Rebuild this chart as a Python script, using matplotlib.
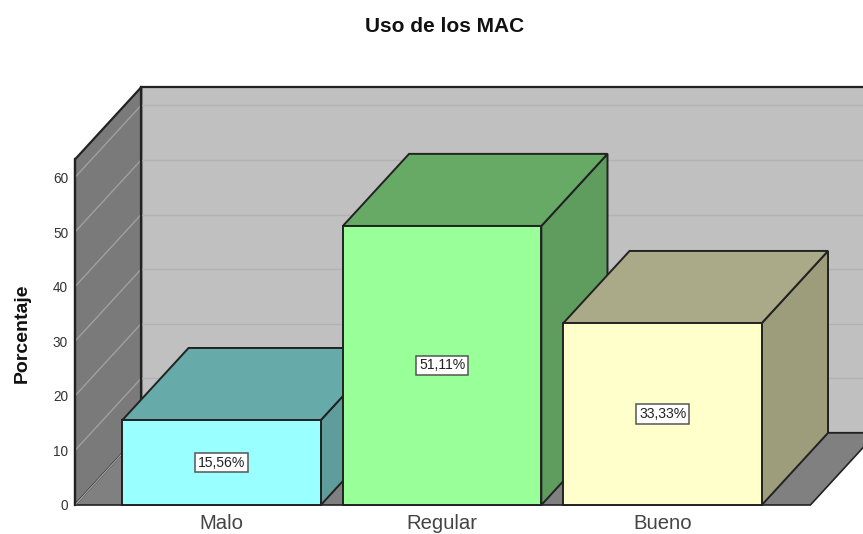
#!/usr/bin/env python3
import matplotlib
matplotlib.use('Agg')
import matplotlib.pyplot as plt
from matplotlib.patches import Polygon

# Chart data
categories = ['Malo', 'Regular', 'Bueno']
percentages = [15.56, 51.11, 33.33]
value_labels = ['15,56%', '51,11%', '33,33%']
yticks = [0, 10, 20, 30, 40, 50, 60]

front_colors = ['#99ffff', '#99ff99', '#ffffcc']
top_colors = ['#66aaaa', '#66aa66', '#aaaa88']
side_colors = ['#5f9d9d', '#5f9d5f', '#9d9d7c']

# Fake 3D depth, in data units
DX = 0.30
DY = 13.2
WIDTH = 0.90
LEFT = -0.665
RIGHT = 2.67
WALL_TOP = 63.3
EDGE = '#222222'

W, H = 863, 534
fig = plt.figure(figsize=(W / 100, H / 100), dpi=100)
ax = fig.add_axes([75 / W, (H - 505) / H, (W - 75) / W, 417 / H])
ax.set_xlim(LEFT, LEFT + (W - 75) / 220.5)
ax.set_ylim(0, 417 / 5.46)


def face(points, color, lw=1.4, ec=EDGE, z=2):
    ax.add_patch(Polygon(points, closed=True, fc=color, ec=ec, lw=lw, zorder=z,
                         joinstyle='miter', clip_on=False))


# Back wall, left wall and floor
face([(LEFT + DX, DY), (RIGHT + DX, DY), (RIGHT + DX, WALL_TOP + DY), (LEFT + DX, WALL_TOP + DY)],
     '#c0c0c0', lw=1.6, z=1)
face([(LEFT, 0), (LEFT + DX, DY), (LEFT + DX, WALL_TOP + DY), (LEFT, WALL_TOP)], '#7a7a7a', lw=1.6, z=1)
face([(LEFT, 0), (RIGHT, 0), (RIGHT + DX, DY), (LEFT + DX, DY)], '#808080', lw=1.2, z=1)

for t in yticks:
    ax.plot([LEFT, LEFT + DX], [t, t + DY], color='#a0a0a0', lw=1.0, zorder=1.5)
    if t > 0:
        ax.plot([LEFT + DX, RIGHT + DX], [t + DY, t + DY], color='#b2b2b2', lw=1.0, zorder=1.5)
ax.plot([LEFT + DX, LEFT + DX], [DY, WALL_TOP + DY], color='#222222', lw=1.6, zorder=1.6, clip_on=False)

# Bars, back to front in drawing order left to right
for i, val in enumerate(percentages):
    x0 = i - WIDTH / 2
    x1 = i + WIDTH / 2
    z = 3 + i
    face([(x1, 0), (x1 + DX, DY), (x1 + DX, val + DY), (x1, val)], side_colors[i], z=z)
    face([(x0, val), (x1, val), (x1 + DX, val + DY), (x0 + DX, val + DY)], top_colors[i], z=z)
    face([(x0, 0), (x1, 0), (x1, val), (x0, val)], front_colors[i], z=z)
    ax.text(i, val / 2, value_labels[i], ha='center', va='center', fontsize=10.1,
            family='Liberation Sans', color='#222222', zorder=z + 0.5,
            bbox=dict(boxstyle='square,pad=0.2', fc='white', ec='#555555', lw=1.1))

# Axes
for s in ['top', 'right', 'bottom']:
    ax.spines[s].set_visible(False)
ax.spines['left'].set_bounds(0, WALL_TOP)
ax.spines['left'].set_linewidth(1.6)
ax.spines['left'].set_color('#222222')
ax.spines['left'].set_zorder(2.5)
ax.set_yticks(yticks)
ax.set_yticklabels([str(t) for t in yticks], fontsize=9.8, family='Liberation Sans', color='#333333')
ax.tick_params(axis='y', length=0, pad=5)
ax.set_xticks(range(len(categories)))
ax.set_xticklabels(categories, fontsize=14.6, family='Liberation Sans', color='#444444')
ax.tick_params(axis='x', length=0, pad=6.5)
ax.patch.set_visible(False)

fig.text(22 / W, 1 - 333 / H, 'Porcentaje', rotation=90, ha='center', va='center',
         fontsize=14, fontweight='bold', family='Liberation Sans', color='#111111')
fig.text(444.5 / W, 1 - 27 / H, 'Uso de los MAC', ha='center', va='center',
         fontsize=15, fontweight='bold', family='Liberation Sans', color='#111111')

plt.savefig('out.png', dpi=100)
plt.close(fig)
